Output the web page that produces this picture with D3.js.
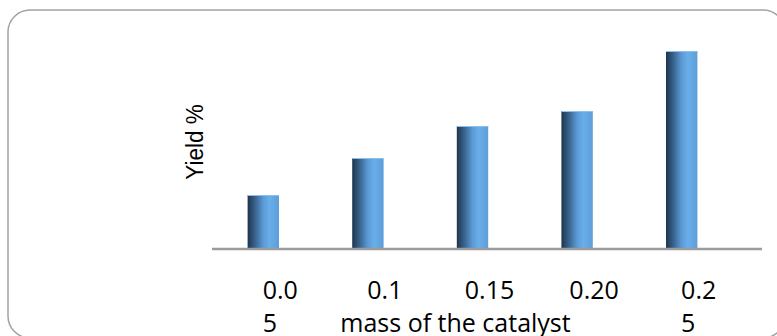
<!DOCTYPE html>
<html>
<head>
<meta charset="utf-8">
<script src="https://cdn.jsdelivr.net/npm/d3@7"></script>
<style>
  html, body { margin: 0; padding: 0; background: #fff; }
  svg { display: block; }
</style>
</head>
<body>
<div id="chart"></div>
<script>
// data (no y ticks shown, so units are relative)
const categories = ["0.05", "0.1", "0.15", "0.20", "0.25"];
const yieldValues = [27, 45.5, 61.5, 69, 99];
// wrapped tick labels as they appear
const tickLines = [["0.0", "5"], ["0.1"], ["0.15"], ["0.20"], ["0.2", "5"]];
const xTitle = "mass of the catalyst";
const yTitle = "Yield %";

const width = 777, height = 336;
const plot = { left: 211, right: 734, top: 49, bottom: 249 };

const svg = d3.select("#chart")
  .append("svg")
  .attr("width", width)
  .attr("height", height);

// bar gradient, dark left edge to light blue
const grad = svg.append("defs").append("linearGradient")
  .attr("id", "barGrad")
  .attr("x1", "0%").attr("x2", "100%").attr("y1", "0%").attr("y2", "0%");
[["0%", "#1f344c"], ["22%", "#365f88"], ["50%", "#5b9ad6"], ["70%", "#6aafea"], ["100%", "#5c9dd9"]]
  .forEach(s => grad.append("stop").attr("offset", s[0]).attr("stop-color", s[1]));

// rounded chart frame
svg.append("rect")
  .attr("x", 8).attr("y", 10)
  .attr("width", 777).attr("height", 328)
  .attr("rx", 22).attr("ry", 22)
  .attr("fill", "none")
  .attr("stroke", "#a3a3a3")
  .attr("stroke-width", 1.5);

const xScale = d3.scaleBand()
  .domain(categories)
  .range([plot.left, plot.right])
  .paddingInner(0.7)
  .paddingOuter(0.35);

const yScale = d3.scaleLinear()
  .domain([0, 100])
  .range([plot.bottom, plot.top]);

// bars
svg.selectAll("rect.bar")
  .data(yieldValues)
  .enter()
  .append("rect")
  .attr("class", "bar")
  .attr("x", (d, i) => xScale(categories[i]))
  .attr("y", d => yScale(d))
  .attr("width", xScale.bandwidth())
  .attr("height", d => yScale(0) - yScale(d))
  .attr("fill", "url(#barGrad)");

// light top edge on each bar
svg.selectAll("line.cap")
  .data(yieldValues)
  .enter()
  .append("line")
  .attr("x1", (d, i) => xScale(categories[i]))
  .attr("x2", (d, i) => xScale(categories[i]) + xScale.bandwidth())
  .attr("y1", d => yScale(d) + 0.5)
  .attr("y2", d => yScale(d) + 0.5)
  .attr("stroke", "#8fc0ec")
  .attr("stroke-width", 1);

// category axis line (runs a bit past the plot on the right)
svg.append("line")
  .attr("x1", plot.left + 1).attr("x2", plot.right + 28)
  .attr("y1", yScale(0)).attr("y2", yScale(0))
  .attr("stroke", "#9c9c9c")
  .attr("stroke-width", 2.5);

// tick labels, wrapped lines left-aligned to each other
const labelFont = "'Open Sans', 'Noto Sans', sans-serif";
tickLines.forEach((lines, i) => {
  const cx = xScale(categories[i]) + xScale.bandwidth() / 2 + 17;
  const t = svg.append("text")
    .attr("y", 299)
    .attr("font-family", labelFont)
    .attr("font-size", 25)
    .attr("fill", "#000");
  lines.forEach((ln, k) => {
    t.append("tspan")
      .attr("dy", k === 0 ? 0 : 33)
      .text(ln);
  });
  const w = t.select("tspan").node().getComputedTextLength();
  t.selectAll("tspan").attr("x", cx - w / 2);
});

// axis titles
svg.append("text")
  .attr("x", (plot.left + plot.right) / 2 - 17)
  .attr("y", 332)
  .attr("text-anchor", "middle")
  .attr("font-family", labelFont)
  .attr("font-size", 25)
  .attr("fill", "#000")
  .text(xTitle);

svg.append("text")
  .attr("transform", "translate(203,142) rotate(-90) scale(1,1.1)")
  .attr("text-anchor", "middle")
  .attr("font-family", "'Liberation Sans', Arial, sans-serif")
  .attr("font-size", 22.5)
  .attr("fill", "#000")
  .text(yTitle);
</script>
</body>
</html>
